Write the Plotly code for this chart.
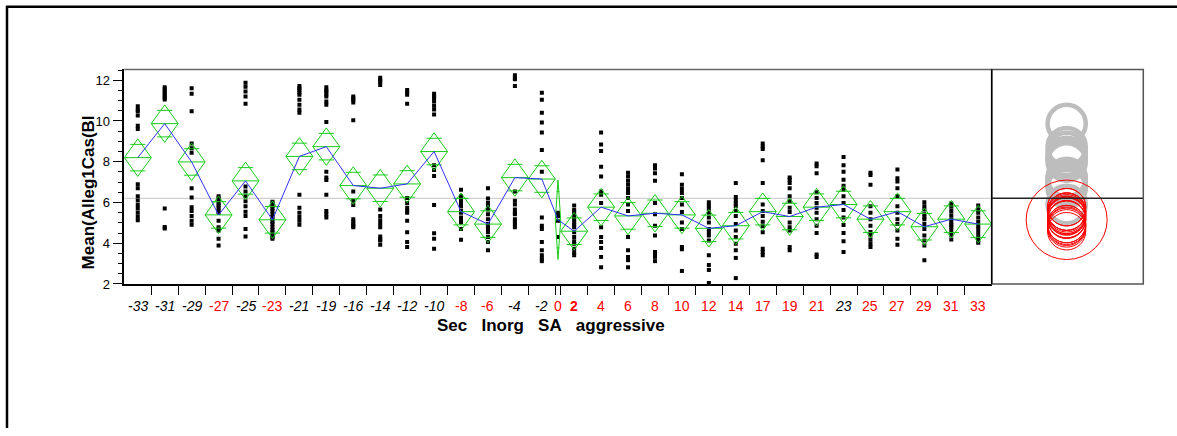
import numpy as np
import plotly.graph_objects as go

# ---------------- data ----------------
categories = ["-33", "-31", "-29", "-27", "-25", "-23", "-21", "-19", "-16", "-14",
              "-12", "-10", "-8", "-6", "-4", "-2", "0", "2", "4", "6", "8", "10",
              "12", "14", "17", "19", "21", "23", "25", "27", "29", "31", "33"]
counts = [20] * 16 + [4] + [20] * 16
means = [8.20, 9.87, 7.99, 5.39, 7.06, 5.15, 8.26, 8.74, 6.83, 6.70, 6.91, 8.50,
         5.55, 4.94, 7.22, 7.15, 5.15, 4.59, 5.77, 5.34, 5.47, 5.39, 4.73, 4.86,
         5.55, 5.31, 5.77, 5.90, 5.18, 5.55, 4.81, 5.18, 4.94]
ci_half = [0.92] * 16 + [1.95] + [0.92] * 16
significant = ["-33", "-31", "-29", "-25", "-21", "-19", "-16", "-14", "-12", "-10",
               "-4", "-2", "23"]
selected = "2"

group_points = [
    [10.72, 10.55, 10.48, 10.27, 9.76, 9.6, 6.9, 6.7, 6.3, 6.1, 5.87, 5.7, 5.5, 5.3, 5.13],
    [11.65, 11.55, 11.45, 11.35, 11.25, 11.15, 11.05, 5.71, 4.8, 4.72],
    [11.6, 11.33, 10.48, 8.9, 8.66, 8.44, 6.7, 6.25, 5.77, 5.58, 5.34, 5.1, 4.91],
    [6.3, 6.2, 6.1, 5.98, 5.85, 5.74, 5.6, 5.5, 5.1, 4.78, 4.7, 4.62, 4.22, 3.89],
    [11.87, 11.68, 11.44, 11.2, 10.85, 6.78, 6.54, 6.3, 6.06, 5.82, 5.55, 5.34, 4.7, 4.33],
    [6.03, 5.95, 5.82, 5.7, 5.58, 5.42, 5.3, 5.18, 5.05, 4.94, 4.78, 4.65, 4.54, 4.38, 4.3, 4.22],
    [11.71, 11.6, 11.52, 11.4, 11.28, 11.04, 10.8, 10.56, 10.4, 6.38, 5.74, 5.5, 5.29, 5.1, 4.91],
    [11.65, 11.5, 11.44, 11.3, 11.2, 10.96, 10.8, 9.95, 7.51, 7.22, 7.1, 6.38, 5.58, 5.42, 5.26],
    [11.2, 11.1, 11.04, 10.91, 10.04, 6.54, 6.09, 5.87, 5.18, 5.05, 4.94, 4.85, 4.78],
    [12.12, 12.0, 11.92, 11.76, 5.66, 5.34, 5.13, 4.95, 4.78, 4.33, 4.2, 4.14, 3.93],
    [11.52, 11.4, 11.28, 10.85, 6.22, 5.98, 5.74, 5.6, 5.5, 5.1, 4.54, 4.06, 3.81],
    [11.33, 11.2, 11.12, 10.96, 10.75, 10.56, 10.32, 7.83, 7.59, 7.3, 5.87, 4.49, 4.22, 3.73],
    [6.62, 6.3, 6.15, 6.06, 5.95, 5.82, 5.6, 5.5, 5.26, 5.1, 5.02, 4.7, 4.17],
    [6.7, 6.19, 5.98, 5.8, 5.66, 5.42, 5.18, 4.94, 4.8, 4.7, 4.54, 4.3, 4.06, 3.65],
    [12.24, 12.1, 12.05, 11.71, 6.54, 6.09, 5.9, 5.66, 5.5, 5.42, 5.18, 5.05, 4.94, 4.78],
    [11.39, 11.04, 10.4, 9.92, 9.43, 8.58, 7.51, 5.26, 4.86, 4.7, 4.06, 3.65, 3.41, 3.25, 3.12],
    [5.5, 5.34, 5.1, 4.3],
    [5.85, 5.63, 5.5, 5.34, 5.15, 5.02, 4.9, 4.78, 4.54, 4.3, 4.1, 3.98, 3.73, 3.55, 3.41],
    [9.43, 8.84, 8.52, 7.75, 7.27, 6.54, 6.38, 5.98, 4.78, 4.3, 4.06, 3.77, 3.33, 2.82],
    [7.46, 7.27, 7.07, 6.87, 6.66, 6.46, 6.22, 5.9, 5.58, 4.3, 3.65, 3.33, 3.17, 2.82],
    [7.83, 7.67, 7.43, 7.07, 5.98, 5.42, 4.86, 4.38, 3.57, 3.45, 3.33, 3.12],
    [7.38, 6.87, 6.66, 6.46, 6.22, 5.9, 5.53, 5.02, 4.7, 3.81, 3.7, 2.64],
    [6.01, 5.85, 5.69, 5.5, 5.26, 5.02, 4.7, 4.55, 4.38, 4.14, 3.41, 2.93, 2.69, 2.05],
    [6.95, 6.27, 6.11, 5.95, 5.82, 5.58, 5.34, 4.94, 4.62, 4.3, 3.98, 3.65, 3.28, 2.29],
    [8.9, 8.75, 8.63, 8.07, 6.95, 5.9, 5.58, 5.34, 5.05, 4.83, 4.54, 3.73, 3.57, 3.41],
    [7.23, 7.11, 6.95, 6.7, 6.3, 6.06, 5.74, 5.53, 5.02, 4.78, 4.62, 3.81, 3.65],
    [7.91, 7.78, 7.43, 6.5, 6.22, 5.98, 5.74, 5.5, 5.18, 4.86, 4.5, 3.45, 3.33],
    [8.23, 7.83, 7.51, 7.11, 6.82, 6.62, 6.3, 5.98, 5.63, 5.26, 4.89, 4.5, 4.1, 3.57],
    [7.46, 7.35, 6.87, 5.82, 5.5, 5.18, 4.86, 4.55, 4.38, 4.17, 3.98, 3.81],
    [7.62, 7.19, 7.03, 6.7, 6.3, 5.82, 5.5, 5.18, 4.94, 4.62, 4.22, 3.93],
    [6.01, 5.82, 5.66, 5.42, 5.3, 5.18, 4.94, 4.7, 4.38, 4.14, 3.89, 3.17],
    [5.95, 5.79, 5.58, 5.37, 5.18, 5.02, 4.9, 4.78, 4.62, 4.41, 4.18],
    [5.85, 5.66, 5.5, 5.26, 5.05, 4.86, 4.7, 4.5, 4.3, 4.14, 4.02],
]

x_title_words = ["Sec", "Inorg", "SA", "aggressive"]
y_title = "Mean(Alleg1Cas(Bl"

# ---------------- derived positions ----------------
counts_arr = np.array(counts, dtype=float)
bounds = np.concatenate([[0.0], np.cumsum(counts_arr)])
lefts = bounds[:-1]
rights = bounds[1:]
centers = (lefts + rights) / 2
total = bounds[-1]
grand_mean = float(np.sum(counts_arr * np.array(means)) / total)

FONT = "Liberation Sans, Arial, sans-serif"
GREEN = "#18cc18"

fig = go.Figure()

# points
px, py = [], []
for c, pts in zip(centers, group_points):
    px += [c] * len(pts)
    py += pts
fig.add_trace(go.Scatter(x=px, y=py, mode="markers",
                         marker=dict(symbol="square", size=4, color="black"),
                         hoverinfo="skip", showlegend=False))

# mean diamonds with overlap marks
dx, dy = [], []
for xl, xr, c, m, h in zip(lefts, rights, centers, means, ci_half):
    w = xr - xl
    dx += [xl, c, xr, c, xl, None, xl, xr, None]
    dy += [m, m + h, m, m - h, m, None, m, m, None]
    o = h / np.sqrt(2)
    hw = 0.28 * w
    dx += [c - hw, c + hw, None, c - hw, c + hw, None]
    dy += [m + o, m + o, None, m - o, m - o, None]
fig.add_trace(go.Scatter(x=dx, y=dy, mode="lines",
                         line=dict(color=GREEN, width=1),
                         hoverinfo="skip", showlegend=False))

# connecting means line
fig.add_trace(go.Scatter(x=centers, y=means, mode="lines",
                         line=dict(color="#3030ff", width=1),
                         hoverinfo="skip", showlegend=False))

# invisible trace on comparison-circle axis
fig.add_trace(go.Scatter(x=[0], y=[grand_mean], xaxis="x2", yaxis="y",
                         mode="markers", marker=dict(size=1, color="rgba(0,0,0,0)"),
                         hoverinfo="skip", showlegend=False))

shapes = []
# grand mean reference line in main plot
shapes.append(dict(type="line", xref="x", yref="y", x0=0, x1=total,
                   y0=grand_mean, y1=grand_mean,
                   line=dict(color="#c4c4c4", width=1), layer="below"))

# comparison circles
for cat, m, h in zip(categories, means, ci_half):
    if cat in significant:
        shapes.append(dict(type="circle", xref="x2", yref="y",
                           x0=-h, x1=h, y0=m - h, y1=m + h,
                           line=dict(color="#bdbdbd", width=4.5)))
for cat, m, h in zip(categories, means, ci_half):
    if cat not in significant:
        shapes.append(dict(type="circle", xref="x2", yref="y",
                           x0=-h, x1=h, y0=m - h, y1=m + h,
                           line=dict(color="#ff0000", width=1)))

X2_RANGE = [-3.61, 3.69]
shapes.append(dict(type="line", xref="x2", yref="y", x0=X2_RANGE[0], x1=X2_RANGE[1],
                   y0=grand_mean, y1=grand_mean, line=dict(color="#222222", width=1.5)))

XD = [124.3 / 1177, 991.7 / 1177]
X2D = [991.7 / 1177, 1143.3 / 1177]
YD = [1 - 289.3 / 436, 1 - 70.7 / 436]

# frames
shapes.append(dict(type="line", xref="paper", yref="paper", x0=XD[0], x1=XD[1],
                   y0=YD[1], y1=YD[1], line=dict(color="#666666", width=1.5)))
shapes.append(dict(type="rect", xref="paper", yref="paper", x0=X2D[0], x1=X2D[1],
                   y0=YD[0], y1=YD[1], line=dict(color="#555555", width=1.5)))
shapes.append(dict(type="line", xref="paper", yref="paper", x0=X2D[0], x1=X2D[0],
                   y0=YD[0], y1=YD[1], line=dict(color="black", width=1.5)))
# outer page frame
shapes.append(dict(type="line", xref="paper", yref="paper", x0=6 / 1177, x1=1,
                   y0=1 - 7 / 436, y1=1 - 7 / 436, line=dict(color="black", width=2.5)))
shapes.append(dict(type="line", xref="paper", yref="paper", x0=7 / 1177, x1=7 / 1177,
                   y0=0, y1=1 - 6 / 436, line=dict(color="black", width=2.5)))

annotations = []
for cat, c in zip(categories, centers):
    if cat == selected:
        txt, col = "<b>%s</b>" % cat, "#ff0000"
    elif cat in significant:
        txt, col = "<i>%s</i>" % cat, "black"
    else:
        txt, col = cat, "#ff0000"
    annotations.append(dict(x=c, xref="x", y=1 - 311.5 / 436, yref="paper",
                            text=txt, showarrow=False, xanchor="center", yanchor="middle",
                            font=dict(family=FONT, size=14, color=col)))
x_title = "\u00a0\u00a0\u00a0".join(x_title_words)
annotations.append(dict(x=551 / 1177, xref="paper", y=1 - 332 / 436, yref="paper",
                        text="<b>%s</b>" % x_title, showarrow=False,
                        xanchor="center", yanchor="middle",
                        font=dict(family=FONT, size=17, color="black")))
annotations.append(dict(x=88 / 1177, xref="paper", y=1 - 196 / 436, yref="paper",
                        text="<b>%s</b>" % y_title, showarrow=False, textangle=-90,
                        xanchor="center", yanchor="middle",
                        font=dict(family=FONT, size=17, color="black")))

fig.update_layout(
    width=1177, height=436,
    margin=dict(l=0, r=0, t=0, b=0),
    paper_bgcolor="white", plot_bgcolor="white",
    showlegend=False,
    shapes=shapes,
    annotations=annotations,
    xaxis=dict(domain=XD, range=[0, total], showgrid=False, zeroline=False,
               tickmode="array", tickvals=list(bounds[1:-1]), showticklabels=False,
               ticks="outside", ticklen=9, tickcolor="black", tickwidth=1,
               showline=True, linecolor="black", linewidth=1.5, anchor="y"),
    xaxis2=dict(domain=X2D, range=X2_RANGE, showgrid=False, zeroline=False,
                showticklabels=False, ticks="", showline=False, anchor="y"),
    yaxis=dict(domain=YD, range=[2, 12.53], showgrid=False, zeroline=False,
               tickmode="array", tickvals=[2, 4, 6, 8, 10, 12],
               ticks="outside", ticklen=10, tickcolor="black", tickwidth=1,
               tickfont=dict(family=FONT, size=13, color="black"),
               showline=True, linecolor="black", linewidth=1.5, anchor="x",
               minor=dict(dtick=0.5, tick0=0, ticks="outside", ticklen=5,
                          tickcolor="black", tickwidth=1)),
    font=dict(family=FONT),
)

fig.write_html("out.html")
